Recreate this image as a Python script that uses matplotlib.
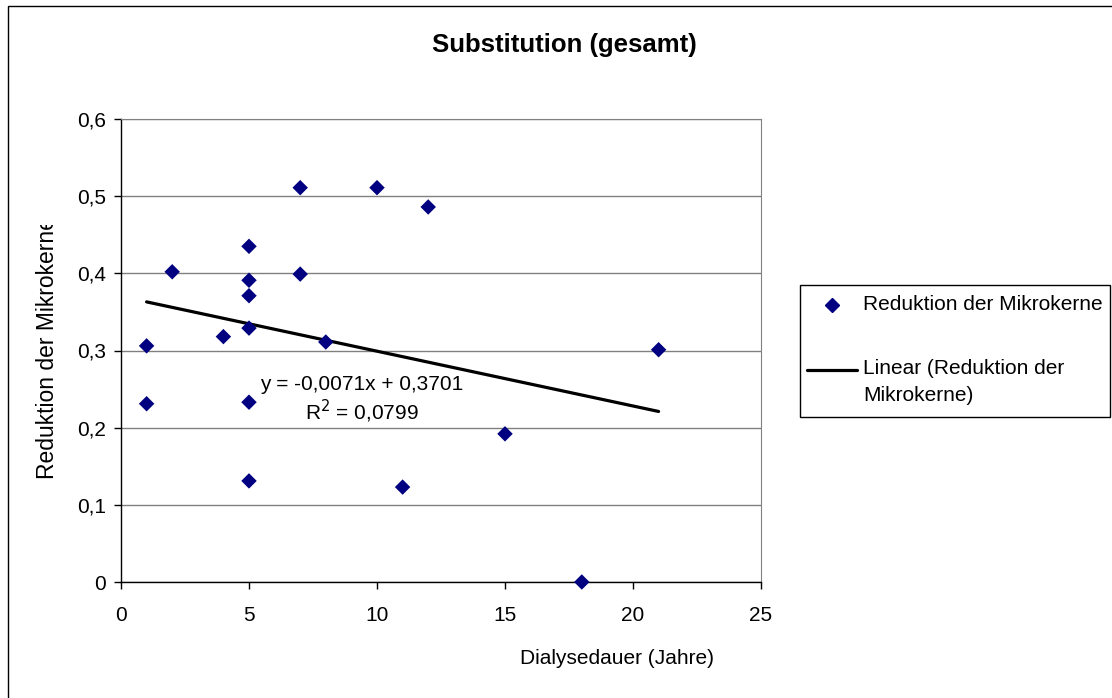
import matplotlib
matplotlib.use("Agg")
import matplotlib.pyplot as plt
import numpy as np
from matplotlib.lines import Line2D
from matplotlib.patches import Rectangle
from matplotlib.transforms import Bbox

plt.rcParams['font.family'] = ['Liberation Sans', 'DejaVu Sans']

# ---- data ----
dialysis_years = [1, 1, 2, 4, 5, 5, 5, 5, 5, 5, 7, 7, 8, 10, 11, 12, 15, 18, 21]
reduction = [0.306, 0.231, 0.402, 0.318, 0.435, 0.391, 0.371, 0.329, 0.233, 0.131,
             0.511, 0.399, 0.311, 0.511, 0.123, 0.486, 0.192, 0.0, 0.301]
trend_slope = -0.0071
trend_intercept = 0.3701
x_ticks = [0, 5, 10, 15, 20, 25]
y_ticks = [0, 0.1, 0.2, 0.3, 0.4, 0.5, 0.6]
y_tick_labels = ['0', '0,1', '0,2', '0,3', '0,4', '0,5', '0,6']

title = 'Substitution (gesamt)'
xlabel = 'Dialysedauer (Jahre)'
ylabel = 'Reduktion der Mikrokerne'
series_label = 'Reduktion der Mikrokerne'
trend_label = 'Linear (Reduktion der\nMikrokerne)'
eq_text = 'y = -0,0071x + 0,3701\nR$^2$ = 0,0799'

W, H = 1112, 698
fig = plt.figure(figsize=(W / 100, H / 100), dpi=100)
fig.patch.set_facecolor('white')

def fx(px):
    return px / W

def fy(py):
    return 1 - py / H

# outer chart frame (only top/left visible in reference)
fig.add_artist(Rectangle((fx(8), fy(720)), fx(1130) - fx(8), fy(6) - fy(720),
                         transform=fig.transFigure, fill=False,
                         edgecolor='black', linewidth=1.0))

ax = fig.add_axes([fx(121), fy(582), fx(761) - fx(121), fy(119) - fy(582)])
ax.set_xlim(0, 25)
ax.set_ylim(0, 0.6)

navy = '#000080'
ax.scatter(dialysis_years, reduction, marker='D', s=62, color=navy,
           edgecolors='none', zorder=4, clip_on=False)

xs = np.array([min(dialysis_years), max(dialysis_years)])
ax.plot(xs, trend_slope * xs + trend_intercept, color='black', linewidth=2.3,
        solid_capstyle='round', zorder=3)

ax.set_xticks(x_ticks)
ax.set_xticklabels([str(t) for t in x_ticks])
ax.set_yticks(y_ticks)
ax.set_yticklabels(y_tick_labels)
ax.tick_params(axis='both', direction='out', length=5, width=1, colors='black',
               labelsize=15)
ax.tick_params(axis='x', pad=12)
ax.tick_params(axis='y', pad=6)

ax.grid(axis='y', color='#808080', linewidth=1.0, zorder=1)
ax.set_axisbelow(True)
for side in ['left', 'bottom']:
    ax.spines[side].set_color('black')
    ax.spines[side].set_linewidth(1.0)
ax.spines['right'].set_color('#808080')
ax.spines['top'].set_color('#808080')

ax.text(0.376, 0.393, eq_text, fontsize=15, ha='center', va='center',
        transform=ax.transAxes, linespacing=1.2, zorder=5)

# title and axis labels
fig.text(fx(564), fy(45), title, fontsize=18.5, fontweight='bold',
         ha='center', va='center')
fig.text(fx(617), fy(658), xlabel, fontsize=15, ha='center', va='center')
yl = fig.text(fx(48), fy(479), ylabel, fontsize=16.5, rotation=90,
              ha='center', va='bottom')
yl.set_clip_box(Bbox.from_extents(0, 0, W, fy(225) * H))
yl.set_clip_on(True)

# legend
fig.add_artist(Rectangle((fx(800), fy(417)), fx(1110) - fx(800), fy(285) - fy(417),
                         transform=fig.transFigure, fill=False,
                         edgecolor='black', linewidth=1.0))
fig.add_artist(Line2D([fx(832)], [fy(305)], marker='D', markersize=7,
                      color=navy, linestyle='none', transform=fig.transFigure))
fig.add_artist(Line2D([fx(807), fx(857)], [fy(370), fy(370)], color='black',
                      linewidth=2.3, solid_capstyle='round',
                      transform=fig.transFigure))
fig.text(fx(863), fy(305), series_label, fontsize=15, ha='left', va='center')
fig.text(fx(863), fy(359), trend_label, fontsize=15, ha='left', va='top',
         linespacing=1.55)

fig.savefig('out.png', dpi=100, facecolor='white')
